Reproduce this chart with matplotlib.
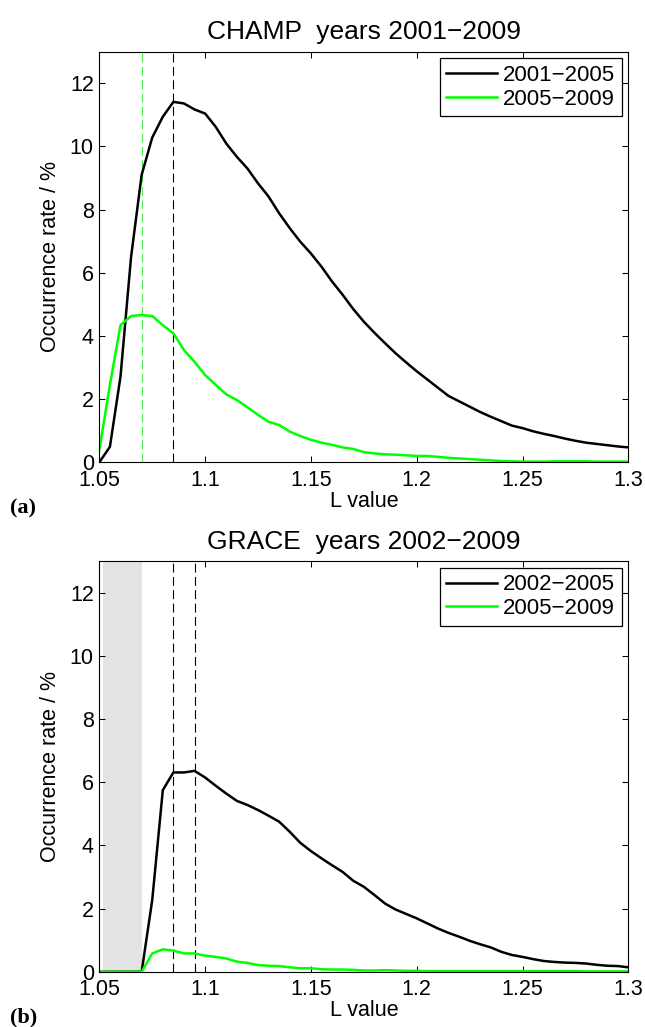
import matplotlib
matplotlib.use("Agg")
import matplotlib.pyplot as plt

plt.rcParams['font.family'] = ['Liberation Sans', 'DejaVu Sans']

# L values (grid of 0.005)
L = [1.05, 1.055, 1.06, 1.065, 1.07, 1.075, 1.08, 1.085, 1.09, 1.095,
     1.1, 1.105, 1.11, 1.115, 1.12, 1.125, 1.13, 1.135, 1.14, 1.145,
     1.15, 1.155, 1.16, 1.165, 1.17, 1.175, 1.18, 1.185, 1.19, 1.195,
     1.2, 1.205, 1.21, 1.215, 1.22, 1.225, 1.23, 1.235, 1.24, 1.245,
     1.25, 1.255, 1.26, 1.265, 1.27, 1.275, 1.28, 1.285, 1.29, 1.295, 1.3]

# CHAMP occurrence rate (%)
champ_0105 = [0.0, 0.49, 2.71, 6.5, 9.1, 10.28, 10.94, 11.41, 11.36, 11.17,
              11.04, 10.62, 10.09, 9.67, 9.30, 8.83, 8.41, 7.88, 7.41, 6.98,
              6.61, 6.19, 5.72, 5.30, 4.85, 4.45, 4.10, 3.77, 3.45, 3.16,
              2.88, 2.62, 2.36, 2.10, 1.93, 1.76, 1.59, 1.44, 1.30, 1.16,
              1.08, 0.98, 0.90, 0.83, 0.75, 0.68, 0.62, 0.58, 0.54, 0.50, 0.47]
champ_0509 = [0.39, 2.45, 4.34, 4.63, 4.66, 4.63, 4.34, 4.08, 3.55, 3.18,
              2.76, 2.45, 2.15, 1.97, 1.74, 1.50, 1.28, 1.18, 0.97, 0.83,
              0.71, 0.62, 0.55, 0.47, 0.42, 0.32, 0.28, 0.25, 0.24, 0.22,
              0.20, 0.20, 0.17, 0.14, 0.12, 0.10, 0.08, 0.06, 0.04, 0.03,
              0.02, 0.02, 0.02, 0.03, 0.03, 0.03, 0.03, 0.02, 0.02, 0.02, 0.02]

# GRACE occurrence rate (%)
grace_0205 = [0.0, 0.0, 0.0, 0.0, 0.0, 2.27, 5.75, 6.31, 6.31, 6.36,
              6.15, 5.89, 5.64, 5.41, 5.28, 5.12, 4.94, 4.75, 4.43, 4.08,
              3.82, 3.59, 3.37, 3.16, 2.88, 2.69, 2.43, 2.16, 1.97, 1.83,
              1.69, 1.53, 1.37, 1.23, 1.11, 0.98, 0.87, 0.77, 0.63, 0.53,
              0.47, 0.40, 0.34, 0.31, 0.29, 0.28, 0.26, 0.22, 0.19, 0.18, 0.14]
grace_0509 = [0.0, 0.0, 0.0, 0.0, 0.0, 0.58, 0.71, 0.67, 0.58, 0.58,
              0.51, 0.47, 0.42, 0.32, 0.28, 0.21, 0.19, 0.18, 0.14, 0.11,
              0.11, 0.08, 0.07, 0.07, 0.06, 0.04, 0.04, 0.05, 0.04, 0.03,
              0.03, 0.02, 0.02, 0.02, 0.02, 0.02, 0.02, 0.02, 0.02, 0.02,
              0.02, 0.02, 0.02, 0.02, 0.02, 0.02, 0.01, 0.01, 0.01, 0.01, 0.01]

champ_peaks = [1.07, 1.085]
champ_peak_colors = ['#4cf04c', 'black']
grace_peaks = [1.085, 1.095]
grace_gap = (1.0515, 1.07)

xticks = [1.05, 1.1, 1.15, 1.2, 1.25, 1.3]
xticklabels = ['1.05', '1.1', '1.15', '1.2', '1.25', '1.3']
yticks = [0, 2, 4, 6, 8, 10, 12]

GREEN = '#00ff00'
FS = 15.5

fig = plt.figure(figsize=(6.45, 10.27), dpi=100)
ax1 = fig.add_axes([0.154, 0.5499, 0.8202, 0.3998])
ax2 = fig.add_axes([0.154, 0.0538, 0.8202, 0.3998])


def style(ax, title):
    ax.set_xlim(1.05, 1.3)
    ax.set_ylim(0, 13)
    ax.set_xticks(xticks)
    ax.set_xticklabels(xticklabels)
    ax.set_yticks(yticks)
    ax.tick_params(direction='in', length=4.2, width=0.75, top=True, right=True,
                   labelsize=FS, pad=4)
    ax.tick_params(axis='x', pad=5.5)
    for s in ax.spines.values():
        s.set_linewidth(0.8)
    ax.set_xlabel('L value', fontsize=FS, labelpad=0)
    ax.set_ylabel('Occurrence rate / %', fontsize=FS, labelpad=6)
    ax.set_title(title, fontsize=19, pad=9)


# (a) CHAMP
for xp, c in zip(champ_peaks, champ_peak_colors):
    ax1.axvline(xp, color=c, lw=0.8, ls=(0, (8, 4)))
ax1.plot(L, champ_0105, color='black', lw=1.8, label='2001\u22122005')
ax1.plot(L, champ_0509, color=GREEN, lw=1.8, label='2005\u22122009')
style(ax1, 'CHAMP  years 2001\u22122009')

# (b) GRACE
ax2.axvspan(grace_gap[0], grace_gap[1], color='#e3e3e3', lw=0)
for xp in grace_peaks:
    ax2.axvline(xp, color='black', lw=0.8, ls=(0, (8, 4)))
ax2.plot(L, grace_0205, color='black', lw=1.8, label='2002\u22122005')
ax2.plot(L, grace_0509, color=GREEN, lw=1.8, label='2005\u22122009')
style(ax2, 'GRACE  years 2002\u22122009')

for ax in (ax1, ax2):
    leg = ax.legend(loc='upper right', fontsize=16, fancybox=False, framealpha=1,
                    edgecolor='black', handlelength=2.3, handletextpad=0.25,
                    labelspacing=0.12, borderpad=0.3, borderaxespad=0.3)
    leg.get_frame().set_linewidth(0.9)

fig.text(10 / 645, 1 - 508 / 1027, '(a)', fontsize=16, fontweight='bold',
         family='Liberation Serif', va='center', ha='left')
fig.text(10 / 645, 1 - 1017 / 1027, '(b)', fontsize=16, fontweight='bold',
         family='Liberation Serif', va='center', ha='left')

fig.savefig('out.png', dpi=100)
